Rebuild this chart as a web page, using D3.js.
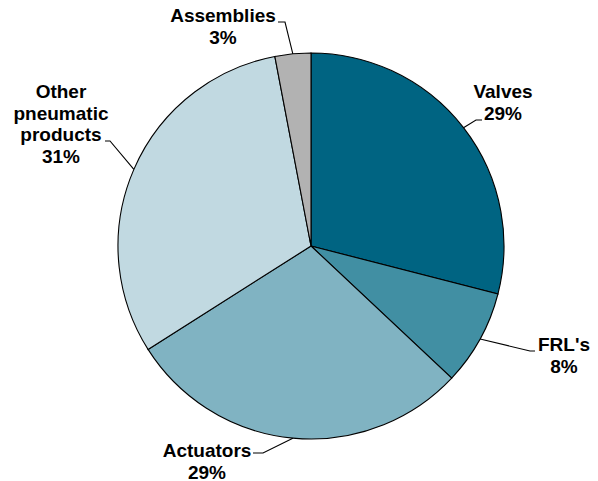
<!DOCTYPE html>
<html><head><meta charset="utf-8">
<script src="https://cdn.jsdelivr.net/npm/d3@7"></script>
<style>body{margin:0;background:#fff}svg{display:block}text{font-family:"Liberation Sans",Arial,sans-serif;font-weight:bold;font-size:19px;fill:#000}</style>
</head><body>
<script>
const categories = ["Valves", "FRL's", "Actuators", "Other pneumatic products", "Assemblies"];
const values = [29, 8, 29, 31, 3];
const colors = ["#006482", "#418fa3", "#80b3c2", "#c1d9e1", "#b2b2b2"];
const labelLines = [["Valves"], ["FRL's"], ["Actuators"], ["Other", "pneumatic", "products"], ["Assemblies"]];

const W = 598, H = 481, cx = 311, cy = 246, R = 193;
// label layout: elbow & end relative to center, text center x, first baseline
const layout = [
  {elbow:[165,-126], end:[171,-126], tx:192, ty:-148},
  {elbow:[219,105], end:[224,105], tx:253, ty:105},
  {elbow:[-48,207], end:[-58,207], tx:-104, ty:211},
  {elbow:[-201,-105], end:[-206,-105], tx:-250, ty:-148},
  {elbow:[-26,-224], end:[-33,-224], tx:-88, ty:-224}
];

const svg = d3.select("body").append("svg").attr("width", W).attr("height", H);
const g = svg.append("g").attr("transform", `translate(${cx},${cy})`);
const data = categories.map((c,i)=>({c, v:values[i], i}));
const pie = d3.pie().value(d=>d.v).sort(null);
const arc = d3.arc().innerRadius(0).outerRadius(R);
const arcs = pie(data);

g.selectAll("path.slice").data(arcs).join("path")
  .attr("class","slice").attr("d", arc)
  .attr("fill", d=>colors[d.data.i]).attr("stroke","#000").attr("stroke-width",1.1);

arcs.forEach((d,i)=>{
  const L = layout[i];
  const mid = (d.startAngle + d.endAngle)/2;
  const p0 = [Math.sin(mid)*R, -Math.cos(mid)*R];
  g.append("polyline").attr("points", [p0, L.elbow, L.end].map(p=>p.join(",")).join(" "))
    .attr("fill","none").attr("stroke","#000").attr("stroke-width",1.1);
  const lines = labelLines[i].concat([d.data.v + "%"]);
  const t = g.append("text").attr("text-anchor","middle");
  lines.forEach((s,k)=>{
    t.append("tspan").attr("x", L.tx).attr("y", L.ty + k*21.5).text(s);
  });
});
</script>
</body></html>
